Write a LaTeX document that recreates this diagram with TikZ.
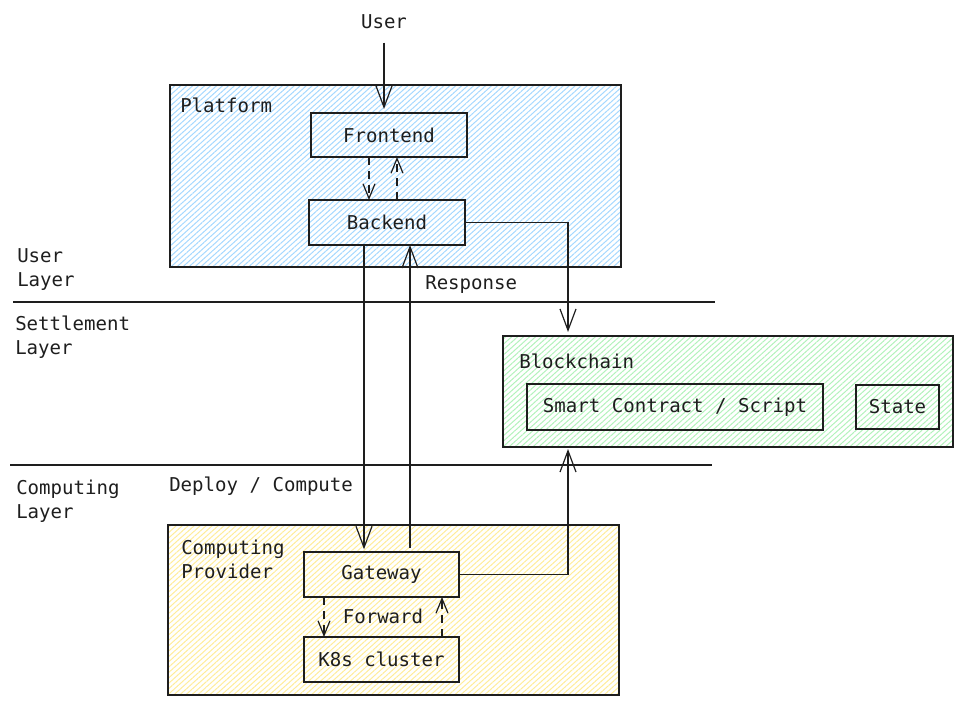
\documentclass[tikz,border=0pt]{standalone}
\usepackage{fontspec}
\setmonofont{DejaVu Sans Mono}
\usetikzlibrary{arrows.meta,patterns.meta,calc}
\definecolor{ink}{HTML}{1E1E1E}
\definecolor{hblue}{HTML}{A5D8FF}
\definecolor{hgreen}{HTML}{B2F2BB}
\definecolor{hyellow}{HTML}{FFEC99}
\begin{document}
\begin{tikzpicture}[x=0.75pt,y=-0.75pt,
  txt/.style={font=\ttfamily\fontsize{14.3}{18}\selectfont, text=ink, inner sep=0pt},
  box/.style={draw=ink, line width=1pt, rectangle, inner sep=0pt, outer sep=0pt,
    font=\ttfamily\fontsize{14.3}{18}\selectfont, text=ink},
  zone/.style={box, preaction={pattern={Lines[angle=42,distance=3pt,line width=0.75pt]}, pattern color=#1}},
  arr/.style={draw=ink, line width=0.9pt, -{Straight Barb[length=16pt,width=12pt]}},
  darr/.style={draw=ink, line width=0.9pt, dash pattern=on 6pt off 4.5pt, -{Straight Barb[length=11pt,width=9pt]}},
  sepline/.style={draw=ink, line width=0.9pt}]
\useasboundingbox (0,0) rectangle (963,706);

% containers
\node[zone=hblue, minimum width=338.25pt, minimum height=136.5pt] (platform) at (395.5,176) {};
\node[zone=hgreen, minimum width=337.5pt, minimum height=83.25pt] (bc) at (728,391.5) {};
\node[zone=hyellow, minimum width=338.25pt, minimum height=127.5pt] (cp) at (393.5,610) {};

% inner boxes
\node[box, minimum width=117pt, minimum height=33pt] (fe) at (389,135) {Frontend};
\node[box, minimum width=117pt, minimum height=33.75pt] (be) at (387,222.5) {Backend};
\node[box, minimum width=222pt, minimum height=34.5pt] (sc) at (675,407) {Smart Contract / Script};
\node[box, minimum width=62.25pt, minimum height=33pt] (st) at (897.5,407) {State};
\node[box, minimum width=116.25pt, minimum height=33.75pt] (gw) at (381.5,574.5) {Gateway};
\node[box, minimum width=116.25pt, minimum height=33.75pt] (k8s) at (381.5,659.5) {K8s cluster};

% labels
\node[txt] (user) at (384,22) {User};
\node[txt, anchor=west] (platl) at (180,105) {Platform};
\node[txt, anchor=west] (bcl) at (519,361) {Blockchain};
\node[txt, anchor=west, align=left] (cpl) at (181,559) {Computing\\Provider};
\node[txt, anchor=west] (resp) at (425,285) {Response};
\node[txt, anchor=west] (dep) at (169,486) {Deploy / Compute};
\node[txt] (fwd) at (383,616) {Forward};
\node[txt, anchor=west, align=left] (ul) at (17,270) {User\\Layer};
\node[txt, anchor=west, align=left] (sl) at (15,337) {Settlement\\Layer};
\node[txt, anchor=west, align=left] (cl) at (16,501) {Computing\\Layer};

% layer separators
\coordinate (s1a) at (13,302); \coordinate (s1b) at (715,302);
\coordinate (s2a) at (10,465); \coordinate (s2b) at (712,465);
\draw[sepline] (s1a) -- (s1b);
\draw[sepline] (s2a) -- (s2b);

% connectors
\draw[arr, shorten <=10pt, shorten >=3pt] (user.south) -- (user.south |- fe.north);
\draw[darr] ($(fe.south west)+(58,0)$) -- ($(be.north west)+(60,0)$);
\draw[darr] ($(be.north west)+(88,0)$) -- ($(fe.south west)+(86,0)$);
\draw[arr] (be.east) -| ($(bc.north west)+(65,-4)$);
\draw[arr, shorten >=2pt] ($(be.south west)+(55,0)$) -- ($(gw.north west)+(60,0)$);
\draw[arr] ($(gw.north west)+(106,-4)$) -- ($(be.south west)+(101,0)$);
\draw[arr] (gw.east) -| ($(bc.south west)+(65,2)$);
\draw[darr] ($(gw.south west)+(20,0)$) -- ($(k8s.north west)+(20,0)$);
\draw[darr] ($(k8s.north west)+(138,0)$) -- ($(gw.south west)+(138,0)$);
\end{tikzpicture}
\end{document}
